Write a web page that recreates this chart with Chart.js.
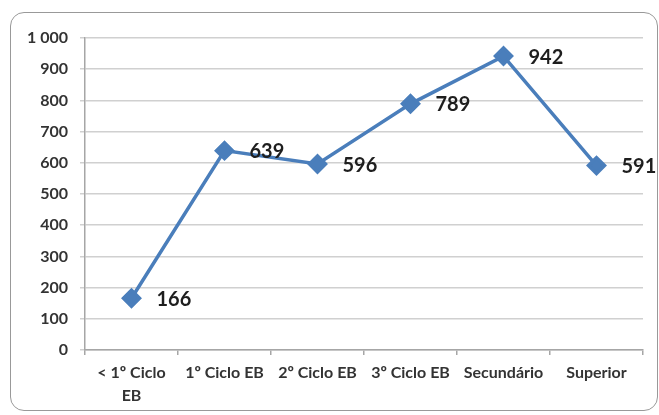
<!DOCTYPE html>
<html>
<head>
<meta charset="utf-8">
<script src="https://cdn.jsdelivr.net/npm/chart.js@4.4.1/dist/chart.umd.min.js"></script>
<style>
  html, body { margin: 0; padding: 0; background: #ffffff; }
  #wrap { position: relative; width: 659px; height: 415px; overflow: hidden; }
  #frame {
    position: absolute; left: 10px; top: 12px; width: 648px; height: 399px;
    border: 1.5px solid #999999; border-radius: 14px; box-sizing: border-box;
  }
  #chart { position: absolute; left: 0; top: 0; }
</style>
</head>
<body>
<div id="wrap">
  <div id="frame"></div>
  <canvas id="chart" width="659" height="415"></canvas>
</div>
<script>
// Education level categories and counts
const categories = [['< 1º Ciclo', 'EB'], '1º Ciclo EB', '2º Ciclo EB', '3º Ciclo EB', 'Secundário', 'Superior'];
const counts = [166, 639, 596, 789, 942, 591];
const yTicks = [0, 100, 200, 300, 400, 500, 600, 700, 800, 900, 1000];

const FONT = 'Lato, "Open Sans", sans-serif';

// Writes each point's value to the right of its marker
const valueLabels = {
  id: 'valueLabels',
  afterDatasetsDraw(chart) {
    const ctx = chart.ctx;
    const meta = chart.getDatasetMeta(0);
    ctx.save();
    ctx.font = 'bold 20px ' + FONT;
    ctx.fillStyle = '#1e1e1e';
    ctx.textAlign = 'left';
    ctx.textBaseline = 'middle';
    meta.data.forEach((pt, i) => {
      ctx.fillText(String(counts[i]), pt.x + 25, pt.y + 1);
    });
    ctx.restore();
  }
};

new Chart(document.getElementById('chart'), {
  type: 'line',
  data: {
    labels: categories,
    datasets: [{
      data: counts,
      borderColor: '#4a7ebb',
      backgroundColor: '#4a7ebb',
      borderWidth: 3.5,
      pointStyle: 'rectRot',
      pointRadius: 8,
      pointHoverRadius: 8,
      tension: 0
    }]
  },
  options: {
    responsive: false,
    animation: false,
    layout: { padding: { top: 38, right: 16, left: 0, bottom: 0 } },
    plugins: { legend: { display: false }, tooltip: { enabled: false } },
    scales: {
      x: {
        offset: true,
        grid: { offset: true, drawOnChartArea: false, drawTicks: true, tickLength: 5, color: '#a6a6a6', lineWidth: 1.5 },
        border: { color: '#a6a6a6', width: 1.5 },
        ticks: {
          font: { family: FONT, size: 16, weight: 'bold', lineHeight: 1.4 },
          color: '#333333', padding: 7, maxRotation: 0, autoSkip: false
        },
        afterFit(s) { s.height = 65; }
      },
      y: {
        min: 0, max: 1000,
        afterBuildTicks(s) { s.ticks = yTicks.map(v => ({ value: v })); },
        grid: { color: '#d0d0d0', lineWidth: 1.5, drawTicks: true, tickLength: 5 },
        border: { color: '#a6a6a6', width: 1.5 },
        ticks: {
          font: { family: FONT, size: 16, weight: 'bold' },
          color: '#333333', padding: 12,
          callback: v => String(v).replace(/\B(?=(\d{3})+(?!\d))/g, ' ')
        },
        afterFit(s) { s.width = 85; }
      }
    }
  },
  plugins: [valueLabels]
});
</script>
</body>
</html>
